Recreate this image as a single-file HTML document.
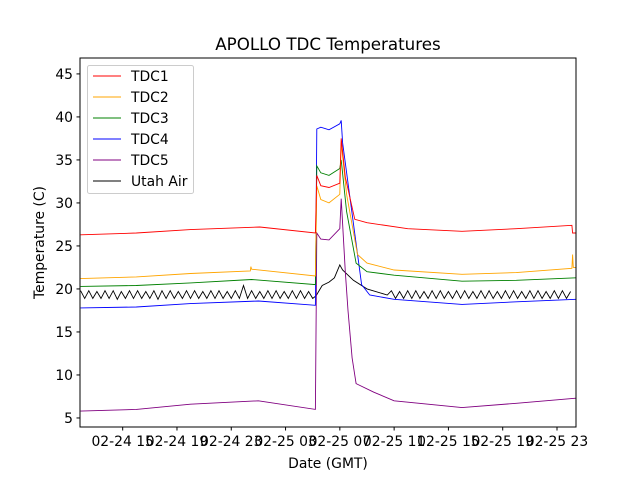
<!DOCTYPE html>
<html><head><meta charset="utf-8"><style>
body{margin:0;background:#fff}
svg text{font-family:"DejaVu Sans","Liberation Sans",sans-serif;fill:#000}
</style></head><body>
<svg id="chart" width="640" height="480" viewBox="0 0 640 480">
<rect width="640" height="480" fill="#fff"/>
<text x="328" y="50" font-size="16.7" text-anchor="middle">APOLLO TDC Temperatures</text>
<g id="plot"></g>
<g id="axes"></g>
</svg>
<script>
const xTickHours=[15,19,23,27,31,35,39,43,47];
const xTickLabels=["02-24 15","02-24 19","02-24 23","02-25 03","02-25 07","02-25 11","02-25 15","02-25 19","02-25 23"];
const yTicks=[5,10,15,20,25,30,35,40,45];
const seriesNames=["TDC1","TDC2","TDC3","TDC4","TDC5","Utah Air"];
const seriesColors=["red","orange","green","blue","purple","black"];
const tdc1=[[11.9,26.3],[16,26.5],[20,26.9],[25.1,27.2],[29.2,26.5],[29.3,33.2],[29.6,32],[30.2,31.8],[31.0,32.3],[31.1,37.5],[31.4,33],[32.1,28.1],[33,27.7],[36,27],[40,26.7],[44,27],[48.1,27.4],[48.15,26.5],[48.4,26.5]];
const tdc2=[[11.9,21.2],[16,21.4],[20,21.8],[24.4,22.1],[24.45,22.6],[24.5,22.3],[29.2,21.5],[29.3,32],[29.6,30.4],[30.2,30],[31.0,31],[31.1,37],[31.5,31],[32.3,24],[33,23],[35,22.2],[40,21.7],[44,21.9],[48.1,22.4],[48.15,24],[48.2,22.5],[48.4,22.5]];
const tdc3=[[11.9,20.3],[16,20.4],[20,20.7],[24.5,21.1],[29.2,20.5],[29.3,34.3],[29.6,33.5],[30.2,33.2],[31.0,34],[31.1,35],[31.5,29],[32.2,23],[33,22],[35,21.6],[40,20.9],[44,21],[48.4,21.3]];
const tdc4=[[11.9,17.8],[16,17.9],[20,18.3],[25,18.6],[29.2,18.1],[29.3,38.6],[29.6,38.8],[30.2,38.5],[31.0,39.2],[31.1,39.6],[31.2,37],[32.6,20.5],[33.2,19.3],[35,18.8],[40,18.2],[44,18.5],[48.4,18.8]];
const tdc5=[[11.9,5.8],[16,6.0],[20,6.6],[25,7.0],[29.2,6.0],[29.3,26.5],[29.6,25.8],[30.2,25.7],[31.0,27],[31.1,30.5],[31.4,22],[31.6,17.5],[31.9,12],[32.2,9],[33.5,8],[35,7],[40,6.2],[44,6.7],[48.4,7.3]];
const airBeforeStart=11.9, airStep=0.3;
const airBefore=[19.8,18.9,19.8,18.9,19.7,18.9,19.8,18.9,19.8,18.8,19.7,18.9,19.8,18.9,19.8,18.9,19.7,18.9,19.8,18.8,19.8,18.9,19.8,18.9,19.7,18.9,19.8,18.9,19.8,18.9,19.7,18.9,19.8,18.9,19.8,18.9,19.7,18.9,19.8,18.9,20.4,18.9,19.8,18.9,19.7,18.9,19.8,18.9,19.8,18.9,19.7,18.9,19.8,18.9,19.8,18.9,19.7,18.9];
const airMid=[[29.25,19.2],[29.4,19.6],[29.7,20.4],[30.2,20.8],[30.6,21.3],[31.0,22.8],[31.2,22.2],[32.0,21],[33.0,20],[34.5,19.3]];
const airAfterStart=34.8;
const airAfter=[19.8,18.9,19.7,18.9,19.8,18.9,19.8,18.9,19.7,18.9,19.8,18.9,19.8,18.9,19.7,18.9,19.8,18.9,19.8,18.9,19.7,18.9,19.8,18.9,19.8,18.9,19.7,18.9,19.8,18.9,19.8,18.9,19.7,18.9,19.8,18.9,19.8,18.9,19.7,18.9,19.8,18.9,19.8,18.9,19.7];

const L=80,R=576,T=58,B=427,xmin=11.855,xmax=48.4,ymin=3.95,ymax=46.85;
const X=h=>L+(h-xmin)/(xmax-xmin)*(R-L);
const Y=v=>B-(v-ymin)/(ymax-ymin)*(B-T);
const NS="http://www.w3.org/2000/svg";
const plot=document.getElementById('plot'), axes=document.getElementById('axes');
function mk(tag,attrs,parent){const e=document.createElementNS(NS,tag);for(const k in attrs)e.setAttribute(k,attrs[k]);parent.appendChild(e);return e;}
const cp=mk('clipPath',{id:'clip'},plot);mk('rect',{x:L,y:T,width:R-L,height:B-T},cp);
const air=[];
airBefore.forEach((v,i)=>{const h=airBeforeStart+i*airStep;if(h<29.25)air.push([h,v]);});
airMid.forEach(p=>air.push(p));
airAfter.forEach((v,i)=>air.push([airAfterStart+i*airStep,v]));
const allSeries=[tdc1,tdc2,tdc3,tdc4,tdc5,air];
const order=[5,4,3,2,1,0];
order.forEach(i=>{
  const d=allSeries[i].filter(p=>p[0]<=xmax+0.1).map((p,j)=>(j?'L':'M')+X(p[0]).toFixed(1)+' '+Y(p[1]).toFixed(1)).join('');
  const p=mk('path',{d:d,fill:'none',stroke:seriesColors[i],'stroke-width':0.9,'clip-path':'url(#clip)'},plot);
  
  
});
mk('rect',{x:L,y:T,width:R-L,height:B-T,fill:'none',stroke:'#000','stroke-width':1},axes);
yTicks.forEach(v=>{
  const y=Y(v);
  mk('line',{x1:L-3.5,x2:L,y1:y,y2:y,stroke:'#000'},axes);
  const t=mk('text',{x:L-7,y:y+5,'font-size':13.9,'text-anchor':'end'},axes);t.textContent=v;
  
  
});
xTickHours.forEach((h,i)=>{
  const x=X(h);
  mk('line',{x1:x,x2:x,y1:B,y2:B+3.5,stroke:'#000'},axes);
  const t=mk('text',{x:x,y:B+19,'font-size':13.9,'text-anchor':'middle'},axes);t.textContent=xTickLabels[i];
  
  
});
const xl=mk('text',{x:(L+R)/2,y:468,'font-size':13.9,'text-anchor':'middle'},axes);xl.textContent='Date (GMT)';


const yl=mk('text',{x:0,y:0,'font-size':13.9,'text-anchor':'middle',transform:`translate(44,${(T+B)/2}) rotate(-90)`},axes);yl.textContent='Temperature (C)';


const lg=mk('g',{},axes);


mk('rect',{x:87.5,y:65.5,width:106,height:128,rx:2,fill:'#fff','fill-opacity':0.8,stroke:'#ccc'},lg);
seriesNames.forEach((n,i)=>{
  const y=76+i*21;
  const g=mk('g',{},lg);
  
  
  mk('line',{x1:93,x2:121,y1:y,y2:y,stroke:seriesColors[i],'stroke-width':0.9},g);
  const t=mk('text',{x:131,y:y+5,'font-size':13.9},g);t.textContent=n;
});
</script>
</body></html>
